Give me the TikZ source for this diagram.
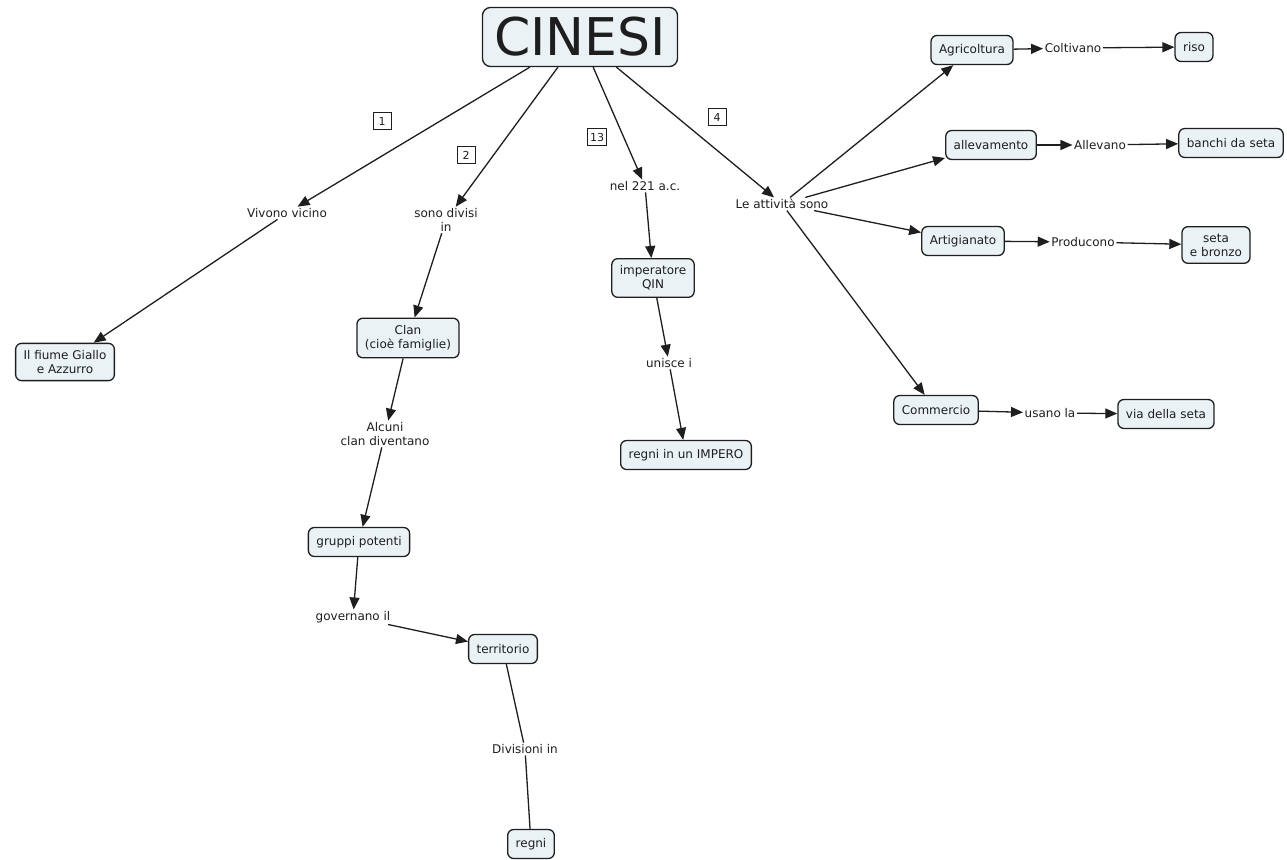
\documentclass[tikz,border=0pt]{standalone}
\usepackage{fontspec}
\setmainfont{DejaVu Sans}
\usetikzlibrary{arrows.meta}
\definecolor{cfill}{RGB}{234,242,246}
\definecolor{ink}{RGB}{30,30,30}
\tikzset{
  concept/.style={draw=ink, line width=1.3pt, fill=cfill, rounded corners=6pt,
    align=center, inner xsep=8pt, inner ysep=7pt, minimum height=29pt,
    text=ink, font=\fontsize{12}{14}\selectfont},
  phrase/.style={align=center, inner sep=1.5pt, text=ink,
    font=\fontsize{12}{14}\selectfont},
  numbox/.style={draw=ink, line width=0.9pt, inner sep=2.5pt, minimum height=17pt,
    minimum width=18pt, text=ink, font=\fontsize{11}{12}\selectfont},
  link/.style={draw=ink, line width=1.3pt, -{Triangle[length=12pt,width=10pt]}},
  plain/.style={draw=ink, line width=1.3pt},
}
\begin{document}
\begin{tikzpicture}[x=1pt, y=-1pt]
\useasboundingbox (0,0) rectangle (1287,859);

% main concept
\node[concept, font=\fontsize{52}{60}\selectfont, minimum width=195pt,
      minimum height=59pt, inner xsep=10pt, rounded corners=8pt] (cinesi) at (580,37) {CINESI};

% concepts
\node[concept] (fiume)      at (65,362)   {Il fiume Giallo\\e Azzurro};
\node[concept] (clan)       at (408,338)  {Clan\\(cioè famiglie)};
\node[concept] (gruppi)     at (359,542)  {gruppi potenti};
\node[concept] (territorio) at (503,649)  {territorio};
\node[concept] (regni)      at (531,844)  {regni};
\node[concept] (imperatore) at (653,278)  {imperatore\\QIN};
\node[concept] (impero)     at (686,455)  {regni in un IMPERO};
\node[concept] (agri)       at (972,50)   {Agricoltura};
\node[concept] (riso)       at (1194,47)  {riso};
\node[concept] (alle)       at (991,145)  {allevamento};
\node[concept] (banchi)     at (1231,143) {banchi da seta};
\node[concept] (arti)       at (963,241)  {Artigianato};
\node[concept] (seta)       at (1216,245) {seta\\e bronzo};
\node[concept] (comm)       at (936,410)  {Commercio};
\node[concept] (via)        at (1166,414) {via della seta};

% linking phrases
\node[phrase] (vivono)    at (287,213)  {Vivono vicino};
\node[phrase] (divisi)    at (446,220)  {sono divisi\\in};
\node[phrase] (nel)       at (645,186)  {nel 221 a.c.};
\node[phrase] (attivita)  at (782,204)  {Le attività sono};
\node[phrase] (alcuni)    at (385,434)  {Alcuni\\clan diventano};
\node[phrase] (governano) at (353,617)  {governano il};
\node[phrase] (divisioni) at (525,749)  {Divisioni in};
\node[phrase] (unisce)    at (669,363)  {unisce i};
\node[phrase] (coltivano) at (1073,48)  {Coltivano};
\node[phrase] (allevano)  at (1100,145) {Allevano};
\node[phrase] (producono) at (1083,242) {Producono};
\node[phrase] (usano)     at (1050,413) {usano la};

% numbered tags
\node[numbox] (n1)  at (382,121) {1};
\node[numbox] (n2)  at (466,155) {2};
\node[numbox] (n13) at (597,137) {13};
\node[numbox] (n4)  at (717,117) {4};

% connectors
\draw[link] (cinesi) -- (vivono);
\draw[link] (vivono) -- (fiume);
\draw[link] (cinesi) -- (divisi);
\draw[link] (divisi) -- (clan);
\draw[link] (cinesi) -- (nel);
\draw[link] (nel) -- (imperatore);
\draw[link] (cinesi) -- (attivita);
\draw[link] (attivita) -- (agri);
\draw[link] (attivita) -- (alle);
\draw[link] (attivita) -- (arti);
\draw[link] (attivita) -- (comm);
\draw[link] (clan) -- (alcuni);
\draw[link] (alcuni) -- (gruppi);
\draw[link] (gruppi) -- (governano);
\draw[link] (governano) -- (territorio);
\draw[plain] (territorio) -- (divisioni);
\draw[plain] (divisioni) -- (regni);
\draw[link] (imperatore) -- (unisce);
\draw[link] (unisce) -- (impero);
\draw[link] (agri) -- (coltivano);
\draw[link] (coltivano) -- (riso);
\draw[link] (alle) -- (allevano);
\draw[link] (allevano) -- (banchi);
\draw[link] (arti) -- (producono);
\draw[link] (producono) -- (seta);
\draw[link] (comm) -- (usano);
\draw[link] (usano) -- (via);
\end{tikzpicture}
\end{document}
